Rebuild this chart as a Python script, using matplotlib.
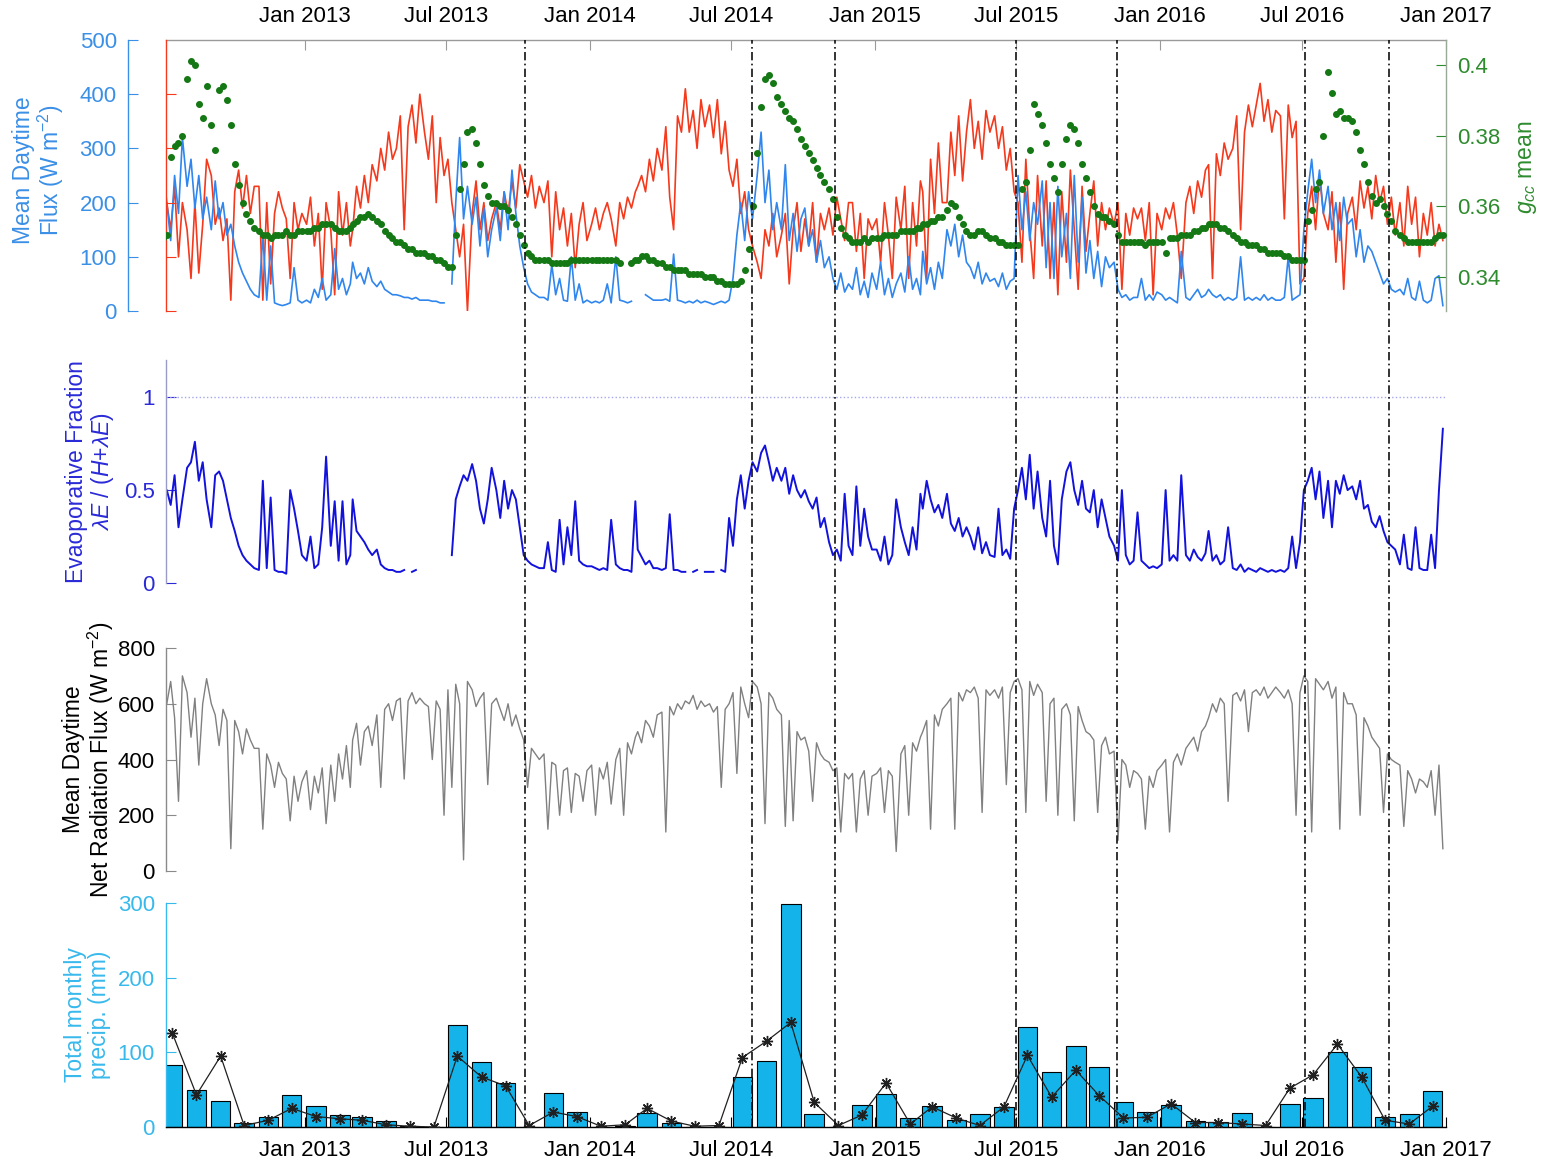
import numpy as np
import pandas as pd
import matplotlib
matplotlib.use("Agg")
import matplotlib.pyplot as plt
import matplotlib.dates as mdates

nan = float("nan")

# ---------------- data (six readings per month, Jul 2012 - Dec 2016) ----------------
first_month, last_month = "2012-07-01", "2016-12-01"
sample_days = [3, 8, 13, 18, 23, 28]

latent_heat = [  # W m-2 (blue)
    150, 200, 130, 250, 180, 320,   230, 280, 190, 250, 170, 210,   150, 240, 170, 200, 140, 160,
    120, 90, 70, 55, 40, 30,        25, 140, 20, 120, 15, 12,       10, 12, 15, 80, 20, 15,
    20, 15, 40, 25, 60, 20,         30, 115, 40, 60, 30, 50,        90, 60, 70, 50, 80, 55,
    45, 55, 40, 35, 30, 30,         28, 25, 25, 22, 25, 20,         20, 20, 18, 18, 15, 15,
    nan, 50, 200, 320, 170, 230,    160, 210, 120, 190, 100, 150,   190, 130, 220, 150, 260, 180,
    120, 80, 50, 35, 30, 25,        25, 20, 85, 30, 60, 20,         18, 100, 20, 50, 15, 20,
    15, 18, 15, 20, 50, 15,         100, 20, 18, 15, 18, nan,       nan, nan, 30, 25, 20, 20,
    20, 22, 18, 105, 20, 18,        15, 18, 15, 20, 15, 18,         15, 12, 15, 18, 15, 20,
    60, 140, 200, 130, 220, 170,    250, 330, 200, 260, 150, 200,   150, 270, 130, 180, 110, 170,
    190, 120, 150, 90, 130, 80,     100, 60, 40, 70, 35, 50,        40, 80, 30, 55, 25, 70,
    40, 90, 30, 60, 25, 50,         70, 35, 100, 40, 60, 30,        110, 50, 80, 40, 90, 60,
    150, 120, 160, 100, 140, 90,    80, 60, 90, 50, 70, 55,         60, 45, 70, 40, 55, 60,
    250, 150, 220, 130, 200, 160,   240, 80, 200, 60, 230, 100,     180, 60, 250, 90, 210, 70,
    130, 60, 110, 45, 100, 80,      90, 40, 25, 30, 20, 25,         25, 60, 20, 30, 20, 35,
    30, 20, 25, 20, 15, 110,        25, 20, 30, 40, 25, 30,         40, 30, 25, 30, 20, 25,
    20, 25, 100, 20, 25, 20,        25, 20, 30, 20, 25, 20,         20, 25, 100, 20, 25, 30,
    150, 220, 280, 200, 260, 180,   230, 150, 200, 130, 210, 160,   170, 100, 150, 90, 120, 110,
    90, 70, 50, 60, 40, 35,         40, 30, 60, 25, 20, 55,         20, 15, 20, 60, 65, 10,
]

sensible_heat = [  # W m-2 (red)
    270, 200, 150, 230, 100, 200,   150, 60, 200, 70, 160, 280,     250, 160, 190, 130, 170, 20,
    220, 260, 190, 250, 180, 230,   230, 20, 200, 50, 180, 220,     190, 170, 60, 200, 150, 180,
    160, 210, 120, 180, 40, 200,    150, 30, 220, 140, 200, 120,    150, 230, 190, 250, 200, 270,
    240, 300, 260, 330, 280, 300,   360, 150, 340, 380, 310, 400,   330, 280, 360, 200, 320, 250,
    280, 200, 150, 100, 160, 0,     180, 240, 150, 200, 130, 170,   200, 150, 220, 180, 240, 190,
    270, 240, 210, 250, 190, 230,   200, 240, 100, 220, 150, 190,   120, 180, 80, 160, 200, 130,
    160, 190, 150, 180, 200, 170,   120, 200, 170, 210, 190, 220,   230, 250, 220, 280, 240, 300,
    260, 340, 210, 150, 360, 330,   410, 330, 370, 300, 390, 340,   380, 320, 390, 290, 350, 260,
    230, 280, 180, 220, 150, 120,   90, 60, 150, 120, 180, 100,     140, 180, 50, 150, 200, 110,
    170, 120, 200, 90, 180, 150,    190, 140, 210, 170, 130, 200,   200, 110, 180, 60, 170, 150,
    170, 90, 200, 140, 60, 210,     150, 230, 60, 200, 120, 240,    220, 60, 280, 180, 310, 200,
    200, 330, 250, 360, 240, 330,   390, 300, 350, 280, 370, 330,   360, 300, 340, 260, 300, 220,
    200, 90, 280, 150, 60, 250,     120, 240, 60, 200, 30, 220,     90, 260, 150, 40, 230, 110,
    180, 240, 120, 200, 150, 190,   160, 200, 40, 180, 140, 190,    170, 190, 130, 200, 30, 180,
    150, 190, 170, 200, 140, 60,    200, 230, 180, 240, 210, 260,   270, 60, 290, 250, 310, 280,
    300, 360, 150, 330, 380, 340,   380, 420, 350, 390, 330, 370,   360, 170, 380, 320, 350, 50,
    60, 180, 230, 150, 250, 180,    150, 220, 90, 200, 40, 180,     210, 150, 240, 190, 230, 170,
    250, 200, 230, 160, 210, 140,   200, 120, 230, 160, 210, 100,   180, 140, 200, 120, 160, 130,
]

gcc_mean = [  # green chromatic coordinate (green dots)
    0.351, 0.352, 0.374, 0.377, 0.378, 0.380,  0.396, 0.401, 0.400, 0.389, 0.385, 0.394,
    0.383, 0.376, 0.393, 0.394, 0.390, 0.383,  0.372, 0.366, 0.361, 0.358, 0.356, 0.354,
    0.353, 0.352, 0.352, 0.351, 0.352, 0.352,  0.352, 0.353, 0.352, 0.352, 0.353, 0.353,
    0.353, 0.353, 0.354, 0.354, 0.355, 0.355,  0.355, 0.354, 0.353, 0.353, 0.353, 0.354,
    0.355, 0.356, 0.357, 0.357, 0.358, 0.357,  0.356, 0.355, 0.353, 0.352, 0.351, 0.350,
    0.350, 0.349, 0.348, 0.348, 0.347, 0.347,  0.347, 0.346, 0.346, 0.345, 0.345, 0.344,
    0.343, 0.343, 0.352, 0.365, 0.372, 0.381,  0.382, 0.378, 0.372, 0.366, 0.363, 0.361,
    0.361, 0.360, 0.360, 0.359, 0.357, 0.355,  0.352, 0.349, 0.347, 0.346, 0.345, 0.345,
    0.345, 0.345, 0.344, 0.344, 0.344, 0.344,  0.344, 0.345, 0.345, 0.345, 0.345, 0.345,
    0.345, 0.345, 0.345, 0.345, 0.345, 0.345,  0.345, 0.344, nan, nan, 0.344, 0.345,
    0.345, 0.346, 0.346, 0.345, 0.345, 0.344,  0.344, 0.343, 0.343, 0.342, 0.342, 0.342,
    0.342, 0.341, 0.341, 0.341, 0.341, 0.340,  0.340, 0.340, 0.339, 0.339, 0.338, 0.338,
    0.338, 0.338, 0.339, 0.342, 0.348, 0.360,  0.375, 0.388, 0.396, 0.397, 0.395, 0.391,
    0.389, 0.387, 0.385, 0.384, 0.382, 0.379,  0.377, 0.375, 0.373, 0.371, 0.369, 0.367,
    0.365, 0.362, 0.357, 0.354, 0.352, 0.351,  0.350, 0.350, 0.350, 0.351, 0.350, 0.351,
    0.351, 0.351, 0.352, 0.352, 0.352, 0.352,  0.353, 0.353, 0.353, 0.353, 0.354, 0.354,
    0.355, 0.355, 0.356, 0.356, 0.357, 0.357,  0.359, 0.361, 0.360, 0.357, 0.355, 0.353,
    0.352, 0.352, 0.353, 0.353, 0.352, 0.351,  0.351, 0.350, 0.350, 0.349, 0.349, 0.349,
    0.349, 0.365, 0.367, 0.376, 0.389, 0.386,  0.383, 0.378, 0.372, 0.368, 0.364, 0.372,
    0.379, 0.383, 0.382, 0.378, 0.372, 0.368,  0.364, 0.360, 0.358, 0.357, 0.357, 0.356,
    0.355, 0.352, 0.350, 0.350, 0.350, 0.350,  0.350, 0.350, 0.349, 0.350, 0.350, 0.350,
    0.350, 0.347, 0.351, 0.351, 0.351, 0.352,  0.352, 0.352, 0.353, 0.353, 0.354, 0.354,
    0.355, 0.355, 0.355, 0.354, 0.354, 0.353,  0.352, 0.351, 0.350, 0.350, 0.349, 0.349,
    0.349, 0.348, 0.348, 0.347, 0.347, 0.347,  0.347, 0.346, 0.346, 0.345, 0.345, 0.345,
    0.345, 0.356, 0.359, 0.365, 0.367, 0.380,  0.398, 0.392, 0.386, 0.387, 0.385, 0.385,
    0.384, 0.381, 0.376, 0.372, 0.367, 0.363,  0.361, 0.362, 0.360, 0.358, 0.356, 0.353,
    0.352, 0.351, 0.350, 0.350, 0.350, 0.350,  0.350, 0.350, 0.350, 0.351, 0.352, 0.352,
]

evap_fraction = [
    0.45, 0.50, 0.42, 0.58, 0.30, 0.45,   0.62, 0.65, 0.76, 0.55, 0.65, 0.45,   0.30, 0.58, 0.60, 0.55, 0.45, 0.35,
    0.28, 0.20, 0.15, 0.12, 0.10, 0.08,   0.07, 0.55, 0.08, 0.46, 0.07, 0.06,   0.06, 0.05, 0.50, 0.40, 0.28, 0.15,
    0.12, 0.25, 0.08, 0.10, 0.30, 0.68,   0.20, 0.44, 0.12, 0.44, 0.10, 0.15,   0.45, 0.28, 0.25, 0.22, 0.18, 0.15,
    0.18, 0.10, 0.08, 0.07, 0.07, 0.06,   0.06, 0.07, nan, 0.06, 0.07, nan,     0.06, nan, 0.06, nan, 0.06, nan,
    nan, 0.15, 0.45, 0.52, 0.58, 0.55,    0.64, 0.55, 0.40, 0.32, 0.45, 0.62,   0.50, 0.35, 0.55, 0.40, 0.50, 0.45,
    0.30, 0.15, 0.12, 0.10, 0.09, 0.08,   0.08, 0.22, 0.07, 0.06, 0.34, 0.10,   0.30, 0.15, 0.44, 0.12, 0.10, 0.09,
    0.09, 0.08, 0.07, 0.08, 0.07, 0.34,   0.10, 0.08, 0.07, 0.07, 0.06, 0.44,   0.18, 0.14, 0.10, 0.12, 0.08, 0.08,
    0.07, 0.08, 0.37, 0.07, 0.07, 0.06,   0.06, nan, 0.06, 0.07, nan, 0.06,     0.06, 0.06, nan, 0.07, 0.06, 0.35,
    0.20, 0.45, 0.58, 0.40, 0.55, 0.65,   0.60, 0.70, 0.74, 0.65, 0.55, 0.62,   0.55, 0.62, 0.48, 0.58, 0.50, 0.46,
    0.50, 0.44, 0.40, 0.46, 0.30, 0.35,   0.22, 0.15, 0.18, 0.12, 0.48, 0.20,   0.15, 0.52, 0.20, 0.40, 0.25, 0.18,
    0.18, 0.12, 0.25, 0.10, 0.15, 0.45,   0.30, 0.22, 0.15, 0.30, 0.18, 0.48,   0.40, 0.55, 0.45, 0.38, 0.42, 0.35,
    0.48, 0.32, 0.28, 0.35, 0.25, 0.30,   0.25, 0.18, 0.30, 0.16, 0.22, 0.15,   0.14, 0.40, 0.15, 0.18, 0.13, 0.40,
    0.50, 0.62, 0.45, 0.69, 0.40, 0.60,   0.35, 0.25, 0.55, 0.20, 0.10, 0.45,   0.60, 0.65, 0.50, 0.42, 0.55, 0.40,
    0.38, 0.50, 0.30, 0.45, 0.35, 0.25,   0.20, 0.12, 0.50, 0.15, 0.10, 0.12,   0.38, 0.12, 0.10, 0.08, 0.09, 0.08,
    0.10, 0.50, 0.12, 0.15, 0.12, 0.58,   0.15, 0.12, 0.18, 0.14, 0.12, 0.16,   0.28, 0.12, 0.15, 0.10, 0.12, 0.30,
    0.08, 0.07, 0.10, 0.06, 0.08, 0.07,   0.06, 0.08, 0.07, 0.06, 0.07, 0.06,   0.07, 0.06, 0.08, 0.25, 0.08, 0.22,
    0.50, 0.55, 0.62, 0.45, 0.60, 0.35,   0.55, 0.30, 0.55, 0.48, 0.58, 0.50,   0.52, 0.45, 0.55, 0.40, 0.42, 0.33,
    0.30, 0.36, 0.28, 0.22, 0.20, 0.18,   0.10, 0.26, 0.08, 0.07, 0.30, 0.08,   0.07, 0.07, 0.26, 0.08, 0.50, 0.83,
]

net_radiation = [  # W m-2 (grey)
    650, 600, 680, 550, 250, 700,   640, 480, 620, 380, 600, 690,   600, 560, 450, 580, 540, 80,
    540, 500, 420, 510, 470, 440,   440, 150, 420, 380, 300, 390,   350, 330, 180, 340, 250, 320,
    360, 220, 340, 280, 370, 170,   380, 250, 420, 330, 450, 300,   470, 530, 380, 500, 520, 450,
    560, 300, 580, 600, 540, 610,   620, 330, 610, 640, 600, 620,   600, 590, 400, 610, 580, 200,
    650, 300, 670, 600, 40, 680,    650, 590, 620, 640, 310, 600,   620, 580, 540, 600, 520, 560,
    510, 470, 300, 440, 420, 400,   420, 150, 390, 380, 200, 360,   370, 210, 350, 340, 250, 360,
    380, 200, 370, 330, 390, 240,   400, 440, 200, 460, 420, 480,   500, 460, 540, 520, 480, 560,
    570, 140, 590, 560, 600, 580,   610, 600, 630, 580, 610, 590,   600, 570, 590, 300, 580, 600,
    640, 350, 660, 600, 550, 680,   660, 600, 170, 640, 620, 580,   560, 160, 540, 180, 500, 470,
    480, 430, 250, 460, 420, 400,   390, 360, 370, 140, 350, 330,   350, 140, 330, 360, 200, 340,
    350, 370, 210, 360, 340, 70,    420, 450, 200, 460, 430, 480,   500, 540, 150, 560, 520, 580,
    600, 620, 150, 640, 610, 650,   640, 660, 620, 210, 650, 630,   650, 620, 660, 310, 640, 680,
    690, 650, 210, 680, 630, 670,   640, 250, 600, 620, 200, 580,   600, 560, 180, 590, 540, 500,
    490, 470, 210, 450, 480, 420,   430, 110, 400, 380, 300, 360,   350, 330, 150, 340, 300, 360,
    380, 400, 140, 390, 420, 380,   440, 460, 480, 430, 500, 520,   550, 600, 570, 620, 600, 250,
    630, 640, 610, 650, 500, 640,   650, 630, 660, 620, 640, 660,   640, 620, 650, 600, 200, 640,
    700, 680, 140, 690, 670, 650,   680, 620, 660, 150, 640, 600,   600, 560, 200, 550, 520, 480,
    460, 440, 210, 420, 400, 390,   380, 160, 360, 330, 280, 330,   320, 300, 360, 200, 380, 80,
]

precip_monthly = [  # mm, bars (Jul 2012 - Dec 2016)
    83, 50, 35, 5, 14, 43, 28, 16, 13, 8, 1, 0,
    136, 87, 59, 0, 46, 20, 0, 2, 19, 6, 0, 0,
    67, 88, 299, 17, 0, 29, 44, 12, 28, 10, 17, 27,
    134, 73, 109, 81, 34, 20, 29, 8, 7, 19, 0, 31,
    39, 100, 81, 13, 17, 48,
]
precip_other = [  # mm, black line with asterisks
    126, 43, 95, 2, 9, 25, 14, 11, 9, 3, 1, 0,
    95, 67, 55, 2, 20, 14, 1, 3, 25, 8, 1, 2,
    93, 115, 140, 33, 2, 16, 59, 4, 27, 12, 2, 27,
    96, 40, 76, 42, 12, 13, 31, 6, 6, 4, 2, 52,
    70, 111, 67, 9, 4, 28,
]

event_dates = ["2013-10-10", "2014-07-27", "2014-11-11", "2015-06-30",
               "2015-11-07", "2016-07-04", "2016-10-20"]
xtick_dates = ["2013-01-01", "2013-07-01", "2014-01-01", "2014-07-01", "2015-01-01",
               "2015-07-01", "2016-01-01", "2016-07-01", "2017-01-01"]
x_limits = ["2012-07-07", "2017-01-01"]

# ---------------- style ----------------
plt.rcParams["font.family"] = ["Liberation Sans", "DejaVu Sans"]
plt.rcParams["mathtext.fontset"] = "custom"
plt.rcParams["mathtext.rm"] = "Liberation Sans"
plt.rcParams["mathtext.it"] = "Liberation Sans:italic"
plt.rcParams["axes.linewidth"] = 1.0

TICK_FS = 16
LAB_FS = 16.5
C_LE = "#2f86ee"
C_LE_TXT = "#3a8fe6"
C_H = "#f4391c"
C_GCC = "#147814"
C_GCC_TXT = "#2e8b2e"
C_EF = "#1212dc"
C_EF_TXT = "#2a2ad8"
C_RN = "#808080"
C_P = "#14b4ea"
C_P_TXT = "#38b9ec"

months = pd.date_range(first_month, last_month, freq="MS")
day_dates = pd.DatetimeIndex([m + pd.Timedelta(days=d - 1) for m in months for d in sample_days])
xd = mdates.date2num(day_dates.to_pydatetime())
xm = mdates.date2num((months + pd.Timedelta(days=14)).to_pydatetime())
xlim = [mdates.date2num(pd.Timestamp(s).to_pydatetime()) for s in x_limits]
xt = [mdates.date2num(pd.Timestamp(s).to_pydatetime()) for s in xtick_dates]
xev = [mdates.date2num(pd.Timestamp(s).to_pydatetime()) for s in event_dates]

W_PX, H_PX = 1544, 1170
fig = plt.figure(figsize=(W_PX / 100, H_PX / 100), dpi=100)
X0, X1 = 166, 1446


def rect(top, bottom):
    return [X0 / W_PX, 1 - bottom / H_PX, (X1 - X0) / W_PX, (bottom - top) / H_PX]


def only_spines(ax, keep):
    for k, sp in ax.spines.items():
        sp.set_visible(k in keep)


fmt = mdates.DateFormatter("%b %Y")

# ---- panel 1: fluxes + gcc ----
ax1 = fig.add_axes(rect(40, 311))
ax1.plot(xd, np.array(sensible_heat, float), color=C_H, lw=1.2, zorder=2)
ax1.plot(xd, np.array(latent_heat, float), color=C_LE, lw=1.2, zorder=3)
ax1.set_xlim(xlim)
ax1.set_ylim(0, 500)
only_spines(ax1, ["left", "top"])
ax1.spines["left"].set_position(("outward", 27.5))
ax1.spines["left"].set_color(C_LE_TXT)
ax1.spines["top"].set_color("#9a9a9a")
ax1.set_yticks([0, 100, 200, 300, 400, 500])
ax1.tick_params(axis="y", colors=C_LE_TXT, direction="in", length=7, labelsize=TICK_FS, pad=8)
ax1.xaxis.set_ticks_position("top")
ax1.set_xticks(xt)
ax1.xaxis.set_major_formatter(fmt)
ax1.tick_params(axis="x", direction="in", length=7, color="#9a9a9a", labelcolor="black",
                labelsize=TICK_FS, pad=9, top=True, bottom=False, labeltop=True, labelbottom=False)
ax1.set_ylabel("Mean Daytime\nFlux (W m$^{-2}$)", color=C_LE_TXT, fontsize=LAB_FS, linespacing=1.05)
ax1.yaxis.set_label_coords(-0.078, 0.52)

# red axis for sensible heat (same scale, no labels)
ax_r = ax1.twinx()
ax_r.set_ylim(0, 500)
only_spines(ax_r, ["left"])
ax_r.spines["left"].set_color(C_H)
ax_r.yaxis.set_ticks_position("left")
ax_r.set_yticks([0, 100, 200, 300, 400])
ax_r.tick_params(axis="y", colors=C_H, direction="in", length=7, labelleft=False, labelright=False)

# gcc axis
ax_g = ax1.twinx()
ax_g.plot(xd, np.array(gcc_mean, float), linestyle="none", marker="o", ms=4.0,
          color=C_GCC, mec=C_GCC, zorder=4)
ax_g.set_ylim(0.3305, 0.407)
only_spines(ax_g, ["right"])
ax_g.spines["right"].set_color("#9aa89a")
ax_g.set_yticks([0.34, 0.36, 0.38, 0.40])
ax_g.set_yticklabels(["0.34", "0.36", "0.38", "0.4"])
ax_g.tick_params(axis="y", colors=C_GCC_TXT, direction="in", length=7, labelsize=TICK_FS, pad=8)
ax_g.set_ylabel("$g_{cc}$ mean", color=C_GCC_TXT, fontsize=LAB_FS, rotation=90)
ax_g.yaxis.set_label_coords(1.055, 0.53)

# ---- panel 2: evaporative fraction ----
ax2 = fig.add_axes(rect(360, 583), sharex=ax1)
ax2.axhline(1.0, color="#a6a6ee", lw=1.0, ls=":")
ax2.plot(xd, np.array(evap_fraction, float), color=C_EF, lw=1.4)
ax2.set_ylim(0, 1.2)
only_spines(ax2, ["left"])
ax2.spines["left"].set_color("#9a9ac8")
ax2.set_yticks([0, 0.5, 1])
ax2.set_yticklabels(["0", "0.5", "1"])
ax2.tick_params(axis="y", colors=C_EF_TXT, direction="in", length=7, labelsize=TICK_FS, pad=8)
ax2.tick_params(axis="x", top=False, bottom=False, labeltop=False, labelbottom=False)
ax2.set_ylabel("Evaoporative Fraction\n$\\lambda E$ / $(H$+$\\lambda E)$", color=C_EF_TXT,
               fontsize=LAB_FS, linespacing=1.05)
ax2.yaxis.set_label_coords(-0.039, 0.5)

# ---- panel 3: net radiation ----
ax3 = fig.add_axes(rect(648, 871), sharex=ax1)
ax3.plot(xd, np.array(net_radiation, float), color=C_RN, lw=1.0)
ax3.set_ylim(0, 800)
only_spines(ax3, ["left"])
ax3.spines["left"].set_color("#8a8a8a")
ax3.set_yticks([0, 200, 400, 600, 800])
ax3.tick_params(axis="y", colors="#8a8a8a", labelcolor="black", direction="in", length=7,
                labelsize=TICK_FS, pad=8)
ax3.tick_params(axis="x", top=False, bottom=False, labeltop=False, labelbottom=False)
ax3.set_ylabel("Mean Daytime\nNet Radiation Flux (W m$^{-2}$)", color="black",
               fontsize=LAB_FS, linespacing=1.05)
ax3.yaxis.set_label_coords(-0.039, 0.5)

# ---- panel 4: precipitation ----
ax4 = fig.add_axes(rect(903, 1127), sharex=ax1)
ax4.bar(xm, precip_monthly, width=25, color=C_P, edgecolor="black", linewidth=0.8, zorder=2)
ax4.plot(xm, precip_other, color="#202020", lw=0.9, marker=(8, 2, 0), ms=8, mew=1.0,
         zorder=3, clip_on=True)
ax4.set_ylim(0, 300)
only_spines(ax4, ["left", "bottom"])
ax4.spines["left"].set_color(C_P_TXT)
ax4.spines["bottom"].set_color("black")
ax4.set_yticks([0, 100, 200, 300])
ax4.tick_params(axis="y", colors=C_P_TXT, direction="in", length=7, labelsize=TICK_FS, pad=8)
ax4.tick_params(axis="x", direction="in", length=7, labelsize=TICK_FS, pad=9,
                top=False, bottom=True, labeltop=False, labelbottom=True)
ax4.set_ylabel("Total monthly\nprecip. (mm)", color=C_P_TXT, fontsize=LAB_FS, linespacing=1.05)
ax4.yaxis.set_label_coords(-0.043, 0.5)
ax4.set_xlim(xlim)

# event lines spanning all panels
span = (1127 - 40) / (1127 - 903)
for xe in xev:
    ax4.axvline(xe, ymin=0, ymax=span, color="#111111", lw=1.2, ls=(0, (5, 2, 1, 2)),
                clip_on=False, zorder=10)

fig.savefig("out.png", dpi=100)
